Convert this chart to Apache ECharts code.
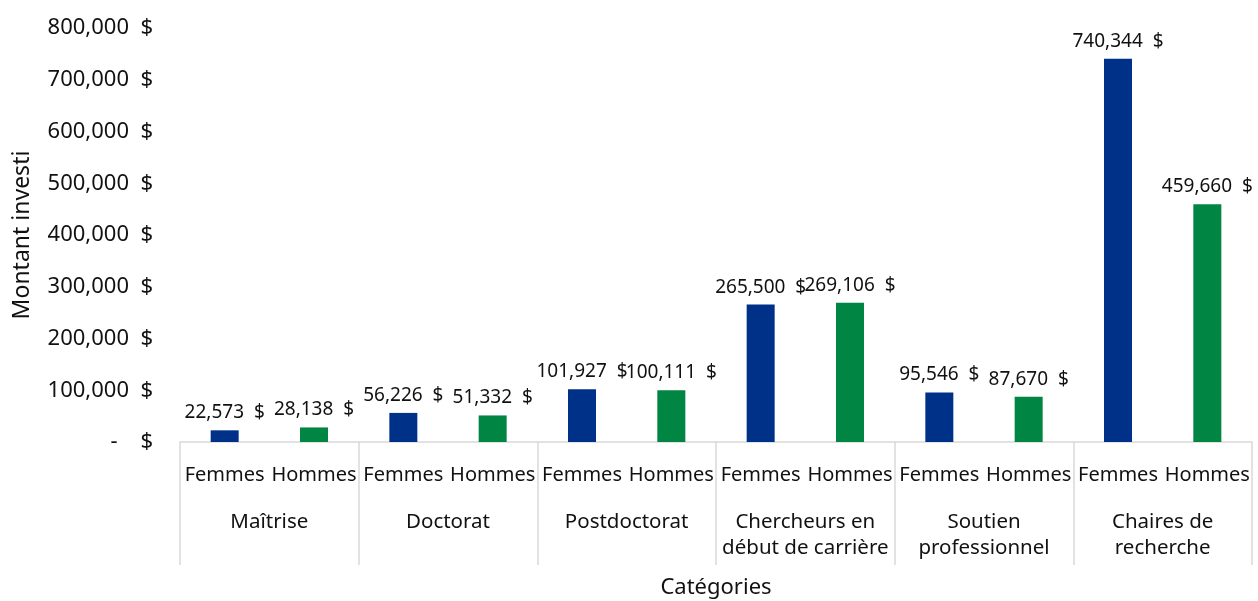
<!DOCTYPE html>
<html><head><meta charset="utf-8">
<script src="https://cdn.jsdelivr.net/npm/echarts@6/dist/echarts.min.js"></script>
<style>html,body{margin:0;padding:0;background:#fff}#c{width:1258px;height:601px}</style>
</head><body><div id="c"></div>
<script>
const groups = ['Maîtrise','Doctorat','Postdoctorat','Chercheurs en\ndébut de carrière','Soutien\nprofessionnel','Chaires de\nrecherche'];
const genders = ['Femmes','Hommes'];
const femmes = [22573, 56226, 101927, 265500, 95546, 740344];
const hommes = [28138, 51332, 100111, 269106, 87670, 459660];
const yTicks = [0,100000,200000,300000,400000,500000,600000,700000,800000];

const cats = [];
const fData = [], hData = [];
groups.forEach((g,i)=>{
  cats.push(genders[0]); cats.push(genders[1]);
  fData.push(femmes[i]); fData.push('-');
  hData.push('-'); hData.push(hommes[i]);
});
const FONT = 'Noto Sans';
const fmt = v => v.toLocaleString('en-US') + '  $';
const TXT = '#111';
const labelCfg = {show:true, position:'top', distance:8, color:TXT, fontFamily:FONT, fontSize:19,
  formatter: p => fmt(p.value)};

const chart = echarts.init(document.getElementById('c'));
chart.setOption({
  animation:false,
  textStyle:{fontFamily:FONT},
  grid:{left:180, right:6, top:28, bottom:159, containLabel:false, outerBoundsMode:'none'},
  xAxis:[
    {type:'category', data:cats, position:'bottom',
     axisLine:{lineStyle:{color:'#d9d9d9', width:1.5}},
     axisTick:{show:false},
     axisLabel:{color:TXT, fontFamily:FONT, fontSize:20, margin:23, interval:0},
     name:'Catégories', nameLocation:'middle', nameGap:135,
     nameTextStyle:{color:TXT, fontFamily:FONT, fontSize:22}},
    {type:'category', data:groups, position:'bottom',
     axisLine:{show:false},
     axisTick:{show:true, length:123, lineStyle:{color:'#d9d9d9', width:1.5}},
     axisLabel:{color:TXT, fontFamily:FONT, fontSize:20.5, margin:67, interval:0, lineHeight:26, verticalAlign:'top'}}
  ],
  yAxis:{type:'value', min:0, max:800000, interval:100000,
    splitLine:{show:false}, axisLine:{show:false}, axisTick:{show:false},
    axisLabel:{color:TXT, fontFamily:FONT, fontSize:22, margin:27,
      formatter: v => v===0 ? '-    $' : fmt(v)},
    name:'Montant investi', nameLocation:'middle', nameGap:146, nameRotate:90,
    nameTextStyle:{color:TXT, fontFamily:FONT, fontSize:23}},
  series:[
    {name:'Femmes', type:'bar', stack:'s', xAxisIndex:0, data:fData, barWidth:28,
     itemStyle:{color:'#003189'}, label:labelCfg},
    {name:'Hommes', type:'bar', stack:'s', xAxisIndex:0, data:hData, barWidth:28,
     itemStyle:{color:'#008542'}, label:labelCfg}
  ]
});
</script></body></html>
